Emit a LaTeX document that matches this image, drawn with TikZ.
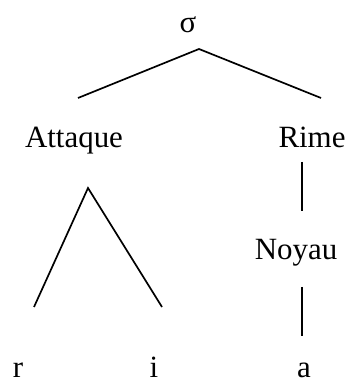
\documentclass[tikz,border=0pt]{standalone}
\usepackage{fontspec}
\setmainfont{Liberation Serif}
\usepackage{tikz}

\begin{document}
\begin{tikzpicture}[
  lbl/.style={anchor=base, inner sep=0pt, font=\fontsize{22}{26}\selectfont},
  branch/.style={line width=1.2pt},
]
\useasboundingbox (0,0) rectangle (8.725,9.475);

% Labels
\node[lbl] (sigma) at (4.70, 8.65) {σ};
\node[lbl] (att) at (1.85, 5.775) {Attaque};
\node[lbl] (rime) at (7.80, 5.775) {Rime};
\node[lbl] (noy) at (7.40, 2.975) {Noyau};
\node[lbl] (r) at (0.45, 0.05) {r};
\node[lbl] (i) at (3.85, 0.05) {i};
\node[lbl] (a) at (7.60, 0.05) {a};

% Branch ends
\coordinate (sigtop) at (4.975, 8.25);
\coordinate (sigL) at (1.95, 7.025);
\coordinate (sigR) at (8.025, 7.025);
\coordinate (atttop) at (2.20, 4.775);
\coordinate (attL) at (0.85, 1.80);
\coordinate (attR) at (4.05, 1.80);
\coordinate (rimeA) at (7.55, 5.425);
\coordinate (rimeB) at (7.55, 4.20);
\coordinate (noyA) at (7.55, 2.30);
\coordinate (noyB) at (7.55, 1.075);

% Branches
\draw[branch] (sigL) -- (sigtop) -- (sigR);
\draw[branch] (attL) -- (atttop) -- (attR);
\draw[branch] (rimeA) -- (rimeB);
\draw[branch] (noyA) -- (noyB);
\end{tikzpicture}
\end{document}
